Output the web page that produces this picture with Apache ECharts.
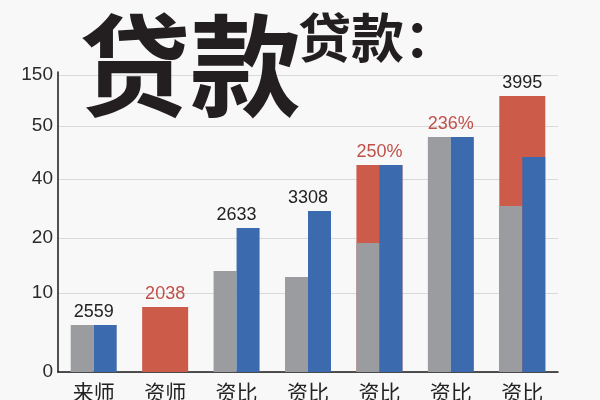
<!DOCTYPE html>
<html><head><meta charset="utf-8">
<script src="https://cdn.jsdelivr.net/npm/echarts@6/dist/echarts.min.js"></script>
<style>html,body{margin:0;padding:0;background:#f8f8f8}#c{width:600px;height:400px}</style>
</head><body><div id="c"></div>
<script>
// Data (axis units; the printed y axis is non-linear, tick positions below)
const categories = ['来师','资师','资比','资比','资比','资比','资比'];
const grayValues = [47, 0, 101, 95, 129, 235, 166];
const blueValues = [47, 0, 144, 161, 207, 235, 215];
const redValues  = [0, 65, 0, 0, 207, 0, 276];
const topLabels  = ['2559','2038','2633','3308','250%','236%','3995'];
const topLabelRed = [false, true, false, false, true, true, false];
const yTickPositions = [0, 79, 134, 193, 246, 297];
const yTickLabels    = ['0','10','20','40','50','150'];

const GRAY = '#9a9c9f', BLUE = '#3c6aae', RED = '#cd5b4a';
const TXT = '#222222', RTXT = '#c0504a';
const FONT = '"Noto Sans CJK SC", "Noto Sans", sans-serif';

const labelData = categories.map((c, i) => ({
  value: Math.max(grayValues[i], blueValues[i], redValues[i]),
  label: { color: topLabelRed[i] ? RTXT : TXT }
}));

const chart = echarts.init(document.getElementById('c'), null, { renderer: 'canvas' });
chart.setOption({
  backgroundColor: '#f8f8f8',
  animation: false,
  title: [
    { text: '贷款', left: 74, top: 5, z: 10,
      textStyle: { fontFamily: FONT, fontSize: 111, fontWeight: 'bold', color: '#231f20', lineHeight: 111 } },
    { text: '贷款：', left: 293, top: 6, z: 10,
      textStyle: { fontFamily: FONT, fontSize: 53, fontWeight: 'bold', color: '#231f20', lineHeight: 53 } }
  ],
  grid: { left: 58, right: 42, top: 72, bottom: 28, containLabel: false, outerBoundsMode: 'none' },
  xAxis: [
    { type: 'category', data: categories,
      axisLine: { lineStyle: { color: '#1a1a1a', width: 1.5 } },
      axisTick: { show: false },
      axisLabel: { fontFamily: FONT, fontSize: 21, color: TXT, margin: 10, interval: 0 } },
    { type: 'category', data: categories, show: false }
  ],
  yAxis: {
    type: 'value', min: 0, max: 300,
    axisLine: { show: true, lineStyle: { color: '#1a1a1a', width: 1.5 } },
    axisTick: { show: false, customValues: yTickPositions },
    splitLine: { lineStyle: { color: '#d9d9d9', width: 1 } },
    axisLabel: {
      customValues: yTickPositions,
      formatter: v => yTickLabels[yTickPositions.indexOf(v)],
      fontFamily: '"Liberation Sans", Arial, sans-serif', fontSize: 19, color: '#2a2a2a', margin: 5
    }
  },
  series: [
    { name: 'red', type: 'bar', xAxisIndex: 0, data: redValues, barWidth: 46,
      itemStyle: { color: RED } },
    { name: 'labels', type: 'bar', xAxisIndex: 0, data: labelData, barWidth: 46, barGap: '-100%',
      itemStyle: { color: 'rgba(0,0,0,0)' }, silent: true,
      label: { show: true, position: 'top', distance: 4,
        fontFamily: '"Liberation Sans", Arial, sans-serif', fontSize: 18,
        formatter: p => topLabels[p.dataIndex] } },
    { name: 'gray', type: 'bar', xAxisIndex: 1, data: grayValues, barWidth: 23, barGap: 0,
      itemStyle: { color: GRAY } },
    { name: 'blue', type: 'bar', xAxisIndex: 1, data: blueValues, barWidth: 23,
      itemStyle: { color: BLUE } }
  ]
});
</script></body></html>
